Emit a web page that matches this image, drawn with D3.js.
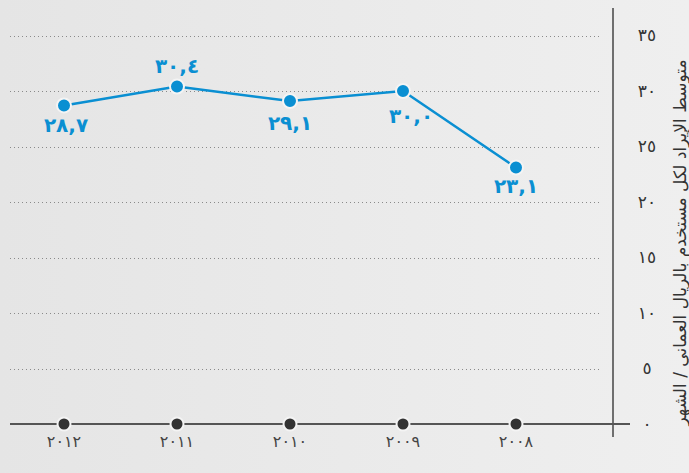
<!DOCTYPE html>
<html lang="ar">
<head>
<meta charset="utf-8">
<script src="https://cdn.jsdelivr.net/npm/d3@7"></script>
<style>
  html, body { margin: 0; padding: 0; }
  body { width: 689px; height: 473px; overflow: hidden; }
  svg { display: block; font-family: "DejaVu Sans", "Noto Sans", sans-serif; }
</style>
</head>
<body>
<div id="chart"></div>
<script>
// data
const years = ["2012", "2011", "2010", "2009", "2008"];
const arpu = [28.7, 30.4, 29.1, 30.0, 23.1];
const yTicks = [0, 5, 10, 15, 20, 25, 30, 35];
const yTitle = "متوسط الإيراد لكل مستخدم بالريال العماني / الشهر";

// label placement per point: [dx, dy] from the dot
const labelPos = [[2, 27], [0, -14], [0, 29], [8, 32], [0, 25]];

const W = 689, H = 473;
const blue = "#0a8fd2", dark = "#333";

const toAr = s => String(s).replace(/[0-9]/g, d => "٠١٢٣٤٥٦٧٨٩"[+d]);
const fmt = v => toAr(v.toFixed(1).replace(".", ","));

const svg = d3.select("#chart").append("svg")
  .attr("width", W).attr("height", H);

const defs = svg.append("defs");
const grad = defs.append("linearGradient").attr("id", "bg")
  .attr("x1", 0).attr("x2", 1).attr("y1", 0).attr("y2", 0);
grad.append("stop").attr("offset", 0).attr("stop-color", "#e5e5e5");
grad.append("stop").attr("offset", 1).attr("stop-color", "#efefef");
svg.append("rect").attr("width", W).attr("height", H).attr("fill", "url(#bg)");

const x = d3.scalePoint().domain(years).range([64, 516]);
const y = d3.scaleLinear().domain([0, 35]).range([424, 35.5]);

// dotted grid
svg.append("g").selectAll("line")
  .data(yTicks.filter(t => t > 0))
  .join("line")
  .attr("x1", 10).attr("x2", 600)
  .attr("y1", d => Math.round(y(d)) + 0.5).attr("y2", d => Math.round(y(d)) + 0.5)
  .attr("stroke", "#8a8a8a").attr("stroke-width", 1)
  .attr("stroke-dasharray", "1,3");

// y axis (right side)
const axisX = 613;
svg.append("line")
  .attr("x1", axisX).attr("x2", axisX).attr("y1", 8).attr("y2", 437)
  .attr("stroke", "#444").attr("stroke-width", 1.5);

svg.append("g").selectAll("text")
  .data(yTicks)
  .join("text")
  .attr("x", 647).attr("y", d => y(d))
  .attr("dy", "0.35em")
  .attr("text-anchor", "middle")
  .attr("font-size", 17)
  .attr("fill", dark)
  .text(d => toAr(d));

svg.append("text")
  .attr("transform", `translate(680,${H / 2 + 6}) rotate(-90)`)
  .attr("text-anchor", "middle")
  .attr("dy", "0.35em")
  .attr("font-size", 17)
  .attr("fill", dark)
  .text(yTitle);

// x baseline
svg.append("line")
  .attr("x1", 10).attr("x2", 630).attr("y1", y(0)).attr("y2", y(0))
  .attr("stroke", "#555").attr("stroke-width", 2);

svg.append("g").selectAll("circle")
  .data(years)
  .join("circle")
  .attr("cx", d => x(d)).attr("cy", y(0)).attr("r", 6.5)
  .attr("fill", dark).attr("stroke", "#f4f4f4").attr("stroke-width", 2);

svg.append("g").selectAll("text")
  .data(years)
  .join("text")
  .attr("x", d => x(d)).attr("y", 447)
  .attr("text-anchor", "middle")
  .attr("font-size", 16)
  .attr("fill", "#444")
  .text(d => toAr(d));

// series
const pts = years.map((yr, i) => ({ yr, v: arpu[i], i }));

svg.append("path")
  .datum(pts)
  .attr("fill", "none")
  .attr("stroke", blue).attr("stroke-width", 2.5)
  .attr("d", d3.line().x(d => x(d.yr)).y(d => y(d.v)));

svg.append("g").selectAll("circle")
  .data(pts)
  .join("circle")
  .attr("cx", d => x(d.yr)).attr("cy", d => y(d.v)).attr("r", 7)
  .attr("fill", blue).attr("stroke", "#f4f4f4").attr("stroke-width", 2);

svg.append("g").selectAll("text")
  .data(pts)
  .join("text")
  .attr("x", d => x(d.yr) + labelPos[d.i][0])
  .attr("y", d => y(d.v) + labelPos[d.i][1])
  .attr("text-anchor", "middle")
  .attr("direction", "ltr")
  .attr("font-size", 20)
  .attr("font-weight", "bold")
  .attr("fill", blue)
  .text(d => fmt(d.v));
</script>
</body>
</html>
